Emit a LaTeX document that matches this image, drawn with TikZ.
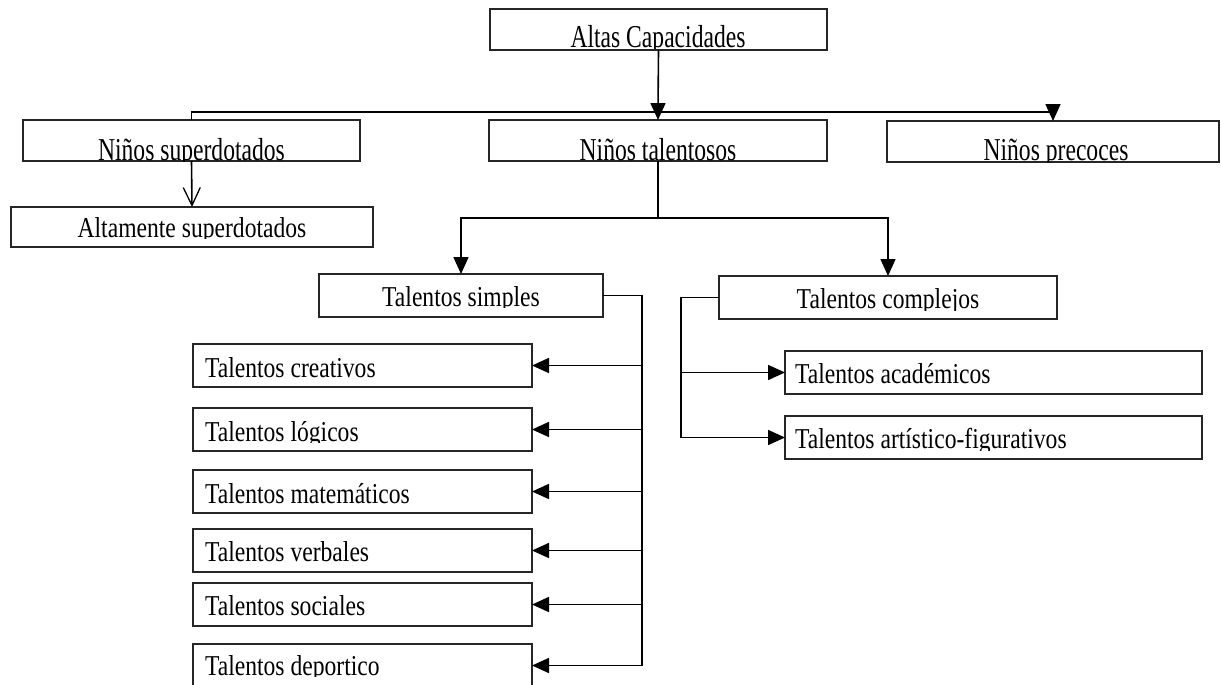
\documentclass[tikz,border=0pt]{standalone}
\usepackage{fontspec}
\setmainfont{Liberation Serif}
\usepackage{graphicx}
\usetikzlibrary{arrows.meta}
\tikzset{
  box/.style={draw=black!85, line width=1.6pt, inner sep=0pt, outer sep=0pt},
  txt/.style={inner sep=0pt, outer sep=0pt, font=\fontsize{23.6}{26}\selectfont},
  conn/.style={draw=black, line width=1.6pt},
  arr/.style={conn, -{Triangle[length=17pt,width=15pt]}},
  barb/.style={conn, -{Straight Barb[length=18pt,width=17pt,line width=1.3pt]}},
}
\newcommand\ys{1.22}
\newcommand\tbox[9]{%
  \node[box, minimum width={#4-#2}, minimum height={#5-#3}] (#1) at ({(#2+#4)/2},{(#3+#5)/2}) {};
  \begin{scope}
    \clip ({#2+1},{#3+1}) rectangle ({#4-1},{#7+1.5});
    \node[txt, anchor=#8] (#1t) at (#6,#7) {\scalebox{1}[\ys]{#9}};
  \end{scope}}
\begin{document}
\begin{tikzpicture}[x=1pt,y=-1pt]
\useasboundingbox (0,0) rectangle (1221,685);
\clip (0,0) rectangle (1221,685);
\renewcommand\ys{1.35}
\tbox{altas}{490}{9}{827}{50}{658}{47.5}{base}{Altas Capacidades}
\tbox{sup}{23}{120}{360}{161}{191.5}{160}{base}{Niños superdotados}
\tbox{tal}{489}{120}{827}{161}{658}{160}{base}{Niños talentosos}
\tbox{pre}{887}{121}{1219}{162}{1056}{160.5}{base}{Niños precoces}
\renewcommand\ys{1.22}
\tbox{alt}{11}{207}{373}{247}{192}{237}{base}{Altamente superdotados}
\tbox{simp}{319}{274}{603}{317}{461}{306}{base}{Talentos simples}
\tbox{comp}{719}{276}{1057}{319}{888}{308.5}{base}{Talentos complejos}
\tbox{crea}{193}{344}{532}{387}{205}{377}{base west}{Talentos creativos}
\tbox{logi}{193}{408}{532}{451}{205}{441}{base west}{Talentos lógicos}
\tbox{mate}{193}{470}{532}{513}{205}{503}{base west}{Talentos matemáticos}
\tbox{verb}{193}{529}{532}{572}{205}{561}{base west}{Talentos verbales}
\tbox{soci}{193}{583}{532}{626}{205}{615}{base west}{Talentos sociales}
\tbox{depo}{193}{644}{532}{687}{205}{675}{base west}{Talentos deportico}
\tbox{acad}{785}{351}{1202}{394}{795}{383.5}{base west}{Talentos académicos}
\tbox{arti}{785}{416}{1202}{459}{795}{448.5}{base west}{Talentos artístico-figurativos}
\coordinate (b1) at (658,112);
\coordinate (b2) at (658,218);
\coordinate (sb) at (641.7,295.5);
\coordinate (cb) at (681,297.5);
\draw[conn] (altas.south) -- (b1);
\draw[conn] (b1) -| (sup.north);
\draw[arr] (b1) -- (tal.north);
\draw[arr] (b1) -| (pre.north);
\draw[barb] (sup.south) -- (alt.north);
\draw[conn] (tal.south) -- (b2);
\draw[arr] (b2) -| (simp.north);
\draw[arr] (b2) -| (comp.north);
\draw[conn] (simp.east) -- (sb) -- (sb |- depo.east);
\foreach \n in {crea,logi,mate,verb,soci,depo} \draw[arr] (sb |- \n.east) -- (\n.east);
\draw[conn] (comp.west) -- (cb) -- (cb |- arti.west);
\foreach \n in {acad,arti} \draw[arr] (cb |- \n.west) -- (\n.west);
\end{tikzpicture}
\end{document}
